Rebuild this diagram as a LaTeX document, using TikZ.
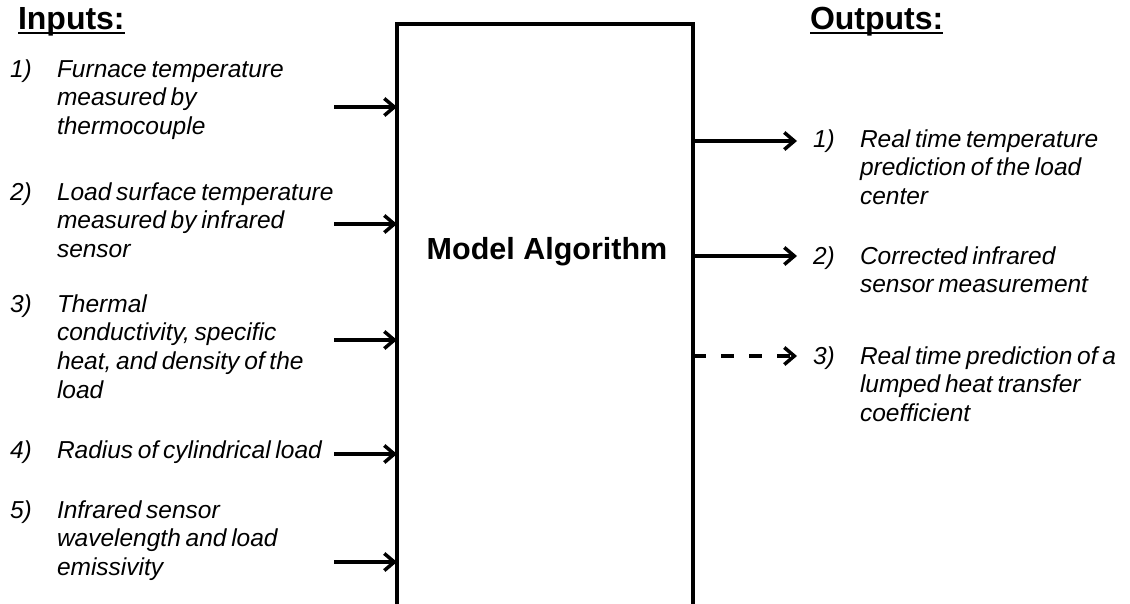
\documentclass[tikz,border=0pt]{standalone}
\usepackage{fontspec}
\setmainfont{Liberation Sans}[WordSpace={0.7}]
\newfontfamily\headfont{Liberation Sans}
\usetikzlibrary{arrows.meta}

% multi-line item text whose baseline is that of its first line
\newcommand{\itemlines}[1]{\parbox[t]{320pt}{\raggedright #1}}

\begin{document}
\begin{tikzpicture}[x=1pt,y=-1pt,
  every node/.style={inner sep=0pt, outer sep=0pt},
  heading/.style={anchor=base west, font=\headfont\fontsize{32}{36}\selectfont\bfseries},
  itemtext/.style={anchor=base west, font=\fontsize{24.5}{28.8}\selectfont\itshape},
  feed/.style={line width=3.5pt, -{Straight Barb[length=10pt,width=17pt]}},
  feeddashed/.style={feed, dash pattern=on 13pt off 15pt},
  underbar/.style={line width=2.5pt}
]
\useasboundingbox (0,0) rectangle (1130,603);
\clip (0,0) rectangle (1130,603);

% central processing block (runs past the lower edge)
\node (model) [draw, line width=4pt, anchor=north west,
      minimum width=296pt, minimum height=640pt] at (397,24) {};
\node (modellabel) [anchor=base, font=\headfont\fontsize{30.5}{34}\selectfont\bfseries]
      at (547,259) {Model Algorithm};

% headings
\node (inputs) [heading] at (18,29) {Inputs:};
\draw[underbar] ([yshift=-4pt]inputs.base west) -- ([yshift=-4pt]inputs.base east);
\node (outputs) [heading] at (810,29) {Outputs:};
\draw[underbar] ([yshift=-4pt]outputs.base west) -- ([yshift=-4pt]outputs.base east);

% inputs
\node (n1) [itemtext] at (10,77) {1)};
\node (i1) [itemtext] at (57,77) {\itemlines{Furnace temperature\\measured by\\thermocouple}};
\node (n2) [itemtext] at (10,200) {2)};
\node (i2) [itemtext] at (57,200) {\itemlines{Load surface temperature\\measured by infrared\\sensor}};
\node (n3) [itemtext] at (10,312) {3)};
\node (i3) [itemtext] at (57,312) {\itemlines{Thermal\\conductivity, specific\\heat, and density of the\\load}};
\node (n4) [itemtext] at (10,458) {4)};
\node (i4) [itemtext] at (57,458) {Radius of cylindrical load};
\node (n5) [itemtext] at (10,518) {5)};
\node (i5) [itemtext] at (57,518) {\itemlines{Infrared sensor\\wavelength and load\\emissivity}};

% input arrow tails
\coordinate (t1) at (334,107);
\coordinate (t2) at (334,224);
\coordinate (t3) at (334,340);
\coordinate (t4) at (334,454);
\coordinate (t5) at (334,562);
\foreach \k in {1,...,5}
  \draw[feed] (t\k) -- (t\k -| model.west);

% outputs
\node (m1) [itemtext] at (813,147) {1)};
\node (o1) [itemtext] at (860,147) {\itemlines{Real time temperature\\prediction of the load\\center}};
\node (m2) [itemtext] at (813,264) {2)};
\node (o2) [itemtext] at (860,264) {\itemlines{Corrected infrared\\sensor measurement}};
\node (m3) [itemtext] at (813,364) {3)};
\node (o3) [itemtext] at (860,364) {\itemlines{Real time prediction of a\\lumped heat transfer\\coefficient}};

% output arrow heads
\coordinate (h1) at (797,141);
\coordinate (h2) at (797,256);
\coordinate (h3) at (797,356);
\draw[feed] (h1 -| model.east) -- (h1);
\draw[feed] (h2 -| model.east) -- (h2);
\draw[feeddashed] (h3 -| model.east) -- (h3);
\end{tikzpicture}
\end{document}
